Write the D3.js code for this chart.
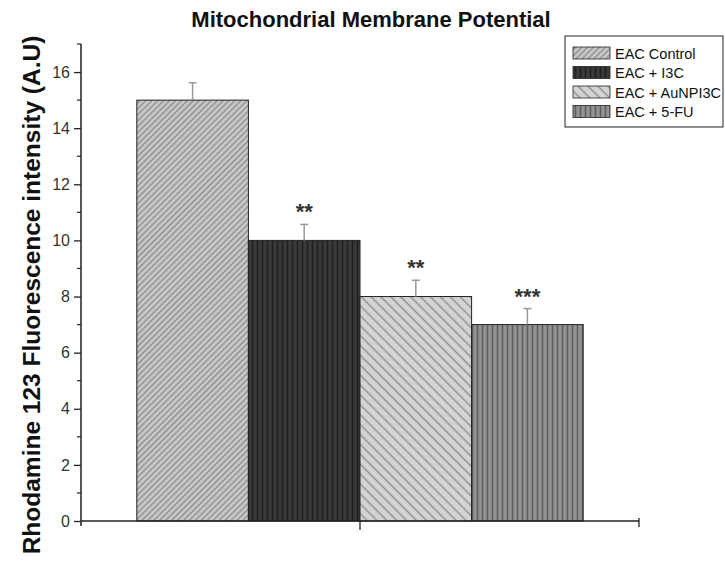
<!DOCTYPE html>
<html>
<head>
<meta charset="utf-8">
<script src="https://cdn.jsdelivr.net/npm/d3@7"></script>
<style>
	body { margin: 0; background: #fff; }
	svg { display: block; font-family: "Liberation Sans", Arial, sans-serif; }
</style>
</head>
<body>
<svg id="chart" width="725" height="578"></svg>
<script>
// data
var groups = ['EAC Control', 'EAC + I3C', 'EAC + AuNPI3C', 'EAC + 5-FU'];
var values = [15, 10, 8, 7];
var errors = [0.62, 0.57, 0.58, 0.57];
var stars = ['', '**', '**', '***'];
var majorTicks = [0, 2, 4, 6, 8, 10, 12, 14, 16];
var minorTicks = [1, 3, 5, 7, 9, 11, 13, 15, 17];
var patternIds = ['p-control', 'p-i3c', 'p-aunp', 'p-5fu'];

var svg = d3.select('#chart');

// patterns
var defs = svg.append('defs');
function hatch(id, size, angle, bg, fg, lw) {
	var p = defs.append('pattern')
		.attr('id', id)
		.attr('patternUnits', 'userSpaceOnUse')
		.attr('width', size).attr('height', size)
		.attr('patternTransform', 'rotate(' + angle + ')');
	p.append('rect').attr('width', size).attr('height', size).attr('fill', bg);
	p.append('line')
		.attr('x1', size / 2).attr('x2', size / 2)
		.attr('y1', 0).attr('y2', size)
		.attr('stroke', fg).attr('stroke-width', lw);
}
hatch('p-control', 4.2, 45, '#cbcbcb', '#8f8f8f', 1.5);
hatch('p-i3c', 5, 0, '#3a3a3a', '#1f1f1f', 1.6);
hatch('p-aunp', 7, -45, '#d4d4d4', '#8e8e8e', 1.4);
hatch('p-5fu', 5, 0, '#939393', '#5e5e5e', 1.6);

var x = d3.scaleBand()
	.domain(groups)
	.range([81, 639])
	.paddingInner(0)
	.paddingOuter(0.5);

var y = d3.scaleLinear()
	.domain([0, 17])
	.range([521, 44]);

// title
svg.append('text')
	.attr('x', 371).attr('y', 27)
	.attr('text-anchor', 'middle')
	.attr('font-size', 22)
	.attr('font-weight', 'bold')
	.attr('fill', '#111')
	.text('Mitochondrial Membrane Potential');

// y label
svg.append('text')
	.attr('transform', 'translate(40,295) rotate(-90)')
	.attr('text-anchor', 'middle')
	.attr('font-size', 24.5)
	.attr('font-weight', 'bold')
	.attr('fill', '#111')
	.text('Rhodamine 123 Fluorescence intensity (A.U)');

// bars
var bar = svg.append('g').selectAll('g')
	.data(groups)
	.enter().append('g');

bar.append('rect')
	.attr('x', function(d) { return x(d); })
	.attr('y', function(d, i) { return y(values[i]); })
	.attr('width', x.bandwidth())
	.attr('height', function(d, i) { return y(0) - y(values[i]); })
	.attr('fill', function(d, i) { return 'url(#' + patternIds[i] + ')'; })
	.attr('stroke', '#222')
	.attr('stroke-width', 1);

// error bars (upper half only)
bar.append('line')
	.attr('x1', function(d) { return x(d) + x.bandwidth() / 2; })
	.attr('x2', function(d) { return x(d) + x.bandwidth() / 2; })
	.attr('y1', function(d, i) { return y(values[i]); })
	.attr('y2', function(d, i) { return y(values[i] + errors[i]); })
	.attr('stroke', '#999').attr('stroke-width', 1.5);
bar.append('line')
	.attr('x1', function(d) { return x(d) + x.bandwidth() / 2 - 4; })
	.attr('x2', function(d) { return x(d) + x.bandwidth() / 2 + 4; })
	.attr('y1', function(d, i) { return y(values[i] + errors[i]); })
	.attr('y2', function(d, i) { return y(values[i] + errors[i]); })
	.attr('stroke', '#999').attr('stroke-width', 1.5);

// significance
bar.append('text')
	.attr('x', function(d) { return x(d) + x.bandwidth() / 2; })
	.attr('y', function(d, i) { return y(values[i] + errors[i]) - 5; })
	.attr('text-anchor', 'middle')
	.attr('font-size', 22)
	.attr('font-weight', 'bold')
	.attr('fill', '#333')
	.text(function(d, i) { return stars[i]; });

// y axis
var yAxis = svg.append('g')
	.attr('transform', 'translate(81,0)')
	.call(d3.axisLeft(y).tickValues(majorTicks).tickSize(7).tickSizeOuter(0));
yAxis.select('.domain').attr('stroke', '#222').attr('stroke-width', 1.5)
	.attr('d', 'M0,' + y(17) + 'V' + (y(0) + 5));
yAxis.selectAll('.tick line').attr('stroke', '#222').attr('stroke-width', 1.3);
yAxis.selectAll('.tick text')
	.attr('font-size', 16)
	.attr('font-family', '"Liberation Sans", Arial, sans-serif')
	.attr('fill', '#333')
	.attr('x', -11);

svg.append('g').selectAll('line')
	.data(minorTicks)
	.enter().append('line')
	.attr('x1', 81).attr('x2', 77)
	.attr('y1', function(d) { return y(d); })
	.attr('y2', function(d) { return y(d); })
	.attr('stroke', '#222').attr('stroke-width', 1.2);

// x axis
var xAxis = svg.append('g')
	.attr('transform', 'translate(0,' + y(0) + ')');
xAxis.append('line')
	.attr('x1', 81).attr('x2', 639)
	.attr('stroke', '#222').attr('stroke-width', 1.5);
xAxis.append('line')
	.attr('x1', 360).attr('x2', 360)
	.attr('y1', 0).attr('y2', 9)
	.attr('stroke', '#222').attr('stroke-width', 1.3);
xAxis.append('line')
	.attr('x1', 639).attr('x2', 639)
	.attr('y1', -3).attr('y2', 6)
	.attr('stroke', '#222').attr('stroke-width', 1.3);

// legend
var legend = svg.append('g').attr('transform', 'translate(565,36)');
legend.append('rect')
	.attr('width', 158).attr('height', 91)
	.attr('fill', '#fff')
	.attr('stroke', '#222').attr('stroke-width', 1);
var item = legend.selectAll('.item')
	.data(groups)
	.enter().append('g')
	.attr('class', 'item')
	.attr('transform', function(d, i) { return 'translate(8,' + (11 + i * 19.5) + ')'; });
item.append('rect')
	.attr('width', 37).attr('height', 12)
	.attr('fill', function(d, i) { return 'url(#' + patternIds[i] + ')'; })
	.attr('stroke', '#222').attr('stroke-width', 0.8);
item.append('text')
	.attr('x', 42).attr('y', 11.5)
	.attr('font-size', 14.5)
	.attr('fill', '#111')
	.text(function(d) { return d; });
</script>
</body>
</html>
